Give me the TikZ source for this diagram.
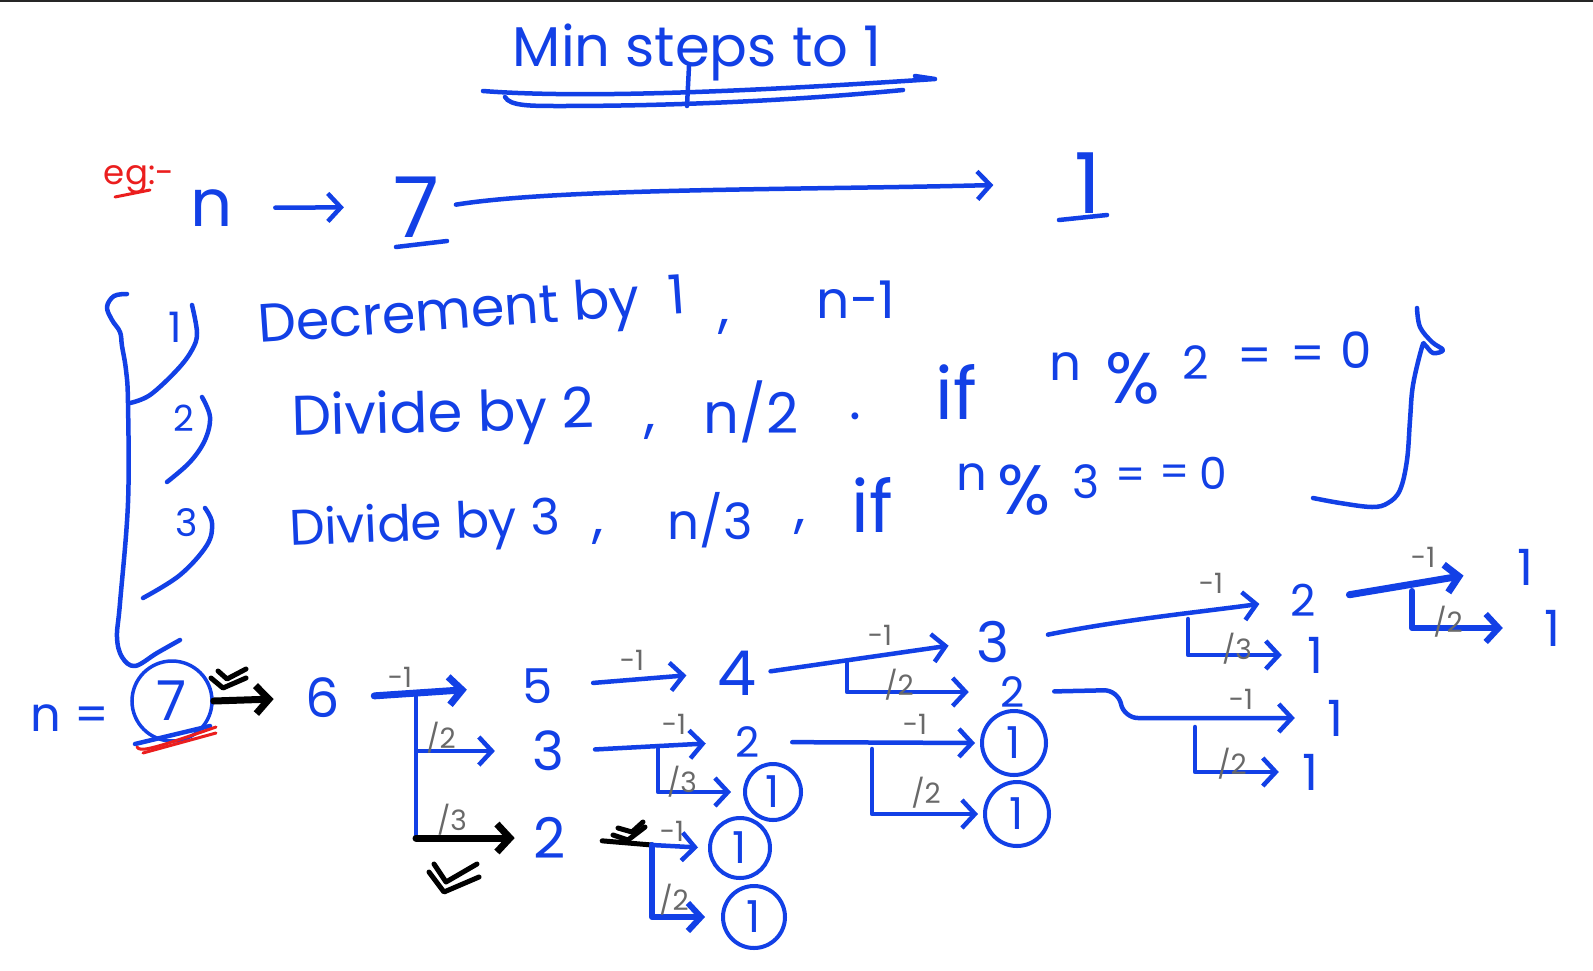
\documentclass[tikz,border=0pt]{standalone}
\usepackage{fontspec}
\setmainfont{Poppins}
\usetikzlibrary{arrows.meta}
\definecolor{pen}{RGB}{18,64,230}
\definecolor{penred}{RGB}{235,30,30}
\definecolor{pencil}{RGB}{105,105,105}
\newcommand\hfs[1]{\fontsize{#1}{#1}\selectfont}
\tikzset{
 stroke/.style={pen, line width=4.5pt, line cap=round, line join=round},
 arr/.style={stroke, -{Straight Barb[length=13pt,width=28pt]}},
 arrthick/.style={arr, line width=7pt},
 arrk/.style={arr, draw=black, line width=7pt},
 chk/.style={black, line width=5pt, line cap=round, line join=round},
 txt/.style={text=pen, inner sep=2pt},
 lbl/.style={text=pencil, inner sep=1pt, font=\hfs{28}},
 circ/.style={txt, draw=pen, line width=4pt, circle},
}
\begin{document}
\begin{tikzpicture}[x=1pt,y=-1pt]
\fill[white] (0,0) rectangle (1593,970);
\useasboundingbox (0,0) rectangle (1593,970);
\draw[black!85, line width=2pt] (0,1) -- (1593,1);

% ---------- title ----------
\node[txt, font=\hfs{56}] (title) at (697,52) {Min steps to 1};
\draw[stroke] (483,91) .. controls (600,100) and (800,88) .. (935,79) -- (915,76);
\draw[stroke] (505,97) .. controls (510,106) and (530,106) .. (560,106) .. controls (700,106) and (820,98) .. (903,90);
\draw[stroke] (689,66) -- (687,106);

% ---------- example ----------
\node[text=penred, inner sep=1pt, font=\hfs{34}] (eg) at (139,180) {eg:-};
\draw[penred, line width=3pt, line cap=round] (115,197) -- (150,190);
\node[txt, font=\hfs{66}] (nn) at (212,208) {n};
\node[txt, font=\hfs{84}] (tseven) at (416,207) {7};
\node[txt, font=\hfs{84}] (tone) at (1088,183) {1};
\draw[arr, shorten <=40pt, shorten >=47pt] (nn) -- (tseven);
\draw[arr, shorten <=15pt, shorten >=79pt] (tseven.east) .. controls (560,188) and (800,190) .. (tone.west);
\draw[stroke] (396,247) -- (447,241);
\draw[stroke] (1059,220) -- (1107,215);

% ---------- rules ----------
\draw[stroke] plot[smooth, tension=.6] coordinates {(127,294) (114,296) (107,307) (112,320) (120,332) (122,346) (126,370) (128,403) (128,503) (120,603) (117,637) (122,657) (135,666) (157,653) (180,640)};
\node[txt, font=\hfs{42}] (ia) at (175,327) {1};
\draw[stroke] plot[smooth, tension=.6] coordinates {(192,305) (197,333) (192,350) (177,370) (150,395) (130,403)};
\node[txt, font=\hfs{54}, anchor=base west, rotate=4] (dec) at (257,343) {Decrement by~~1};
\node[txt, font=\hfs{56}] (c1) at (724,327) {,};
\node[txt, font=\hfs{52}] (nm1) at (856,300) {n-1};

\node[txt, font=\hfs{36}] (ib) at (184,418) {2};
\draw[stroke] plot[smooth, tension=.6] coordinates {(202,397) (210,417) (205,440) (190,462) (167,482)};
\node[txt, font=\hfs{56}, anchor=base west, rotate=1.5] (div2) at (290,436) {Divide by 2};
\node[txt, font=\hfs{56}] (c2) at (650,432) {,};
\node[txt, font=\hfs{56}] (n2) at (751,412) {n/2};
\node[txt, font=\hfs{56}] (dot2) at (855,416) {.};
\node[txt, font=\hfs{72}] (if1) at (956,392) {if};
\node[txt, font=\hfs{50}] (m1) at (1065,367) {n};
\node[txt, font=\hfs{72}] (m2) at (1133,378) {\%};
\node[txt, font=\hfs{46}] (m3) at (1196,363) {2};
\node[txt, font=\hfs{48}] (m4) at (1255,360) {=};
\node[txt, font=\hfs{48}] (m5) at (1308,358) {=};
\node[txt, font=\hfs{50}] (m6) at (1356,350) {0};

\node[txt, font=\hfs{38}] (ic) at (187,523) {3};
\draw[stroke] plot[smooth, tension=.6] coordinates {(205,508) (212,523) (207,545) (180,575) (143,598)};
\node[txt, font=\hfs{50}, anchor=base west, rotate=2.5] (div3) at (288,546) {Divide by 3};
\node[txt, font=\hfs{56}] (c3) at (598,537) {,};
\node[txt, font=\hfs{50}] (n3) at (710,520) {n/3};
\node[txt, font=\hfs{56}] (c4) at (800,527) {,};
\node[txt, font=\hfs{72}] (if2) at (872,505) {if};
\node[txt, font=\hfs{48}] (k1) at (972,477) {n};
\node[txt, font=\hfs{70}] (k2) at (1024,490) {\%};
\node[txt, font=\hfs{46}] (k3) at (1086,482) {3};
\node[txt, font=\hfs{42}] (k4) at (1131,479) {=};
\node[txt, font=\hfs{42}] (k5) at (1175,476) {=};
\node[txt, font=\hfs{44}] (k6) at (1213,473) {0};

\draw[stroke] plot[smooth, tension=.6] coordinates {(1417,308) (1420,327) (1432,342) (1443,350) (1433,353) (1425,345) (1422,347) (1413,385) (1410,420) (1407,460) (1400,490) (1388,503) (1372,507) (1340,503) (1313,498)};

% ---------- tree ----------
\node[txt, font=\hfs{48}] (neq) at (70,718) {n =};
\node[circ, font=\hfs{55}, minimum size=80pt, line width=3.5pt] (seven) at (172,701) {7};
\draw[stroke] (135,744) -- (210,726);
\draw[penred, line width=3pt, line cap=round] (137,747) .. controls (140,752) and (150,750) .. (216,727);
\draw[penred, line width=3pt, line cap=round] (143,753) -- (216,733);

\node[txt, font=\hfs{54}] (six) at (323,698) {6};
\node[txt, font=\hfs{48}] (five) at (538,686) {5};
\node[txt, font=\hfs{54}] (threeA) at (548,751) {3};
\node[txt, font=\hfs{56}] (twoA) at (550,838) {2};
\node[txt, font=\hfs{62}] (four) at (737,673) {4};
\node[txt, font=\hfs{56}] (threeB) at (993,642) {3};
\node[txt, font=\hfs{42}] (twoB) at (1013,692) {2};
\node[txt, font=\hfs{42}] (twoC) at (748,742) {2};
\node[txt, font=\hfs{44}] (twoD) at (1303,600) {2};
\node[txt, font=\hfs{50}] (oneB) at (1315,655) {1};
\node[txt, font=\hfs{50}] (oneC) at (1525,567) {1};
\node[txt, font=\hfs{50}] (oneD) at (1552,628) {1};
\node[txt, font=\hfs{50}] (oneE) at (1335,718) {1};
\node[txt, font=\hfs{50}] (oneF) at (1310,772) {1};
\node[circ, font=\hfs{44}, minimum size=56pt] (oneA) at (773,792) {1};
\node[circ, font=\hfs{44}, minimum size=64pt] (oneG) at (1014,743) {1};
\node[circ, font=\hfs{44}, minimum size=64pt] (oneH) at (1017,814) {1};
\node[circ, font=\hfs{44}, minimum size=60pt] (oneI) at (740,848) {1};
\node[circ, font=\hfs{44}, minimum size=62pt] (oneJ) at (754,917) {1};

\coordinate (j6) at (416,697);
\coordinate (j4) at (847,661);
\coordinate (j3) at (658,746);
\coordinate (j2c) at (872,749);
\coordinate (j2a) at (652,845);
\coordinate (j3b) at (1188,619);
\coordinate (j2d) at (1412,591);
\coordinate (j2b) at (1195,727);

\draw[arrk, shorten >=30pt] (seven.east) -- (six.west);
\draw[chk] (211,678) -- (223,688) -- (246,678);
\draw[chk] (218,671) -- (227,679) -- (246,669);

\draw[arrthick, shorten <=32pt, shorten >=54pt] (six.east) -- (five.west);
\draw[arr, shorten >=35pt] (j6) |- (threeA.west);
\draw[stroke] (j6) -- (j6 |- twoA.west);
\draw[arrk, shorten >=17pt] (j6 |- twoA.west) -- (twoA.west);
\draw[chk] (429,872) -- (444,892) -- (479,877);
\draw[chk] (434,864) -- (446,882) -- (477,864);

\draw[arr, shorten <=38pt, shorten >=29pt] (five.east) -- (four.west);
\draw[arr, shorten <=12pt, shorten >=26pt] (four.east) -- (threeB.west);
\draw[arr, shorten >=30pt] (j4) |- (twoB.west);

\draw[arr, shorten <=29pt, shorten >=28pt] (threeA.east) -- (twoC.west);
\draw[arr, shorten >=12pt] (j3) |- (oneA.west);
\draw[arr, shorten <=30pt, shorten >=5pt] (twoC.east) -- (oneG.west);
\draw[arr, shorten >=5pt] (j2c) |- (oneH.west);

\draw[chk, shorten <=34pt] (twoA.east) -- (j2a);
\draw[chk] (613,835) -- (628,840) -- (645,827);
\draw[chk] (618,828) -- (632,832) -- (643,822);
\draw[arr, shorten >=10pt] (j2a) -- (oneI.west);
\draw[arr, line width=6pt, shorten >=16pt] (j2a) |- (oneJ.west);

\draw[arr, shorten <=37pt, shorten >=29pt] (threeB.east) .. controls (1120,620) and (1200,612) .. (twoD.west);
\draw[arr, shorten >=23pt] (j3b) |- (oneB.west);
\draw[arrthick, shorten <=32pt, shorten >=52pt] (twoD.east) -- (oneC.west);
\draw[arr, line width=6pt, shorten >=39pt] (j2d) |- (oneD.west);

\draw[arr, rounded corners=14pt, shorten <=27pt, shorten >=30pt] (twoB.east) -- (1118,690) -- (1124,718) -- (oneE.west);
\draw[arr, shorten >=21pt] (j2b) |- (oneF.west);

% ---------- pencil labels ----------
\node[lbl] (l1) at (400,677) {-1};
\node[lbl] (l2) at (441,738) {/2};
\node[lbl] (l3) at (452,820) {/3};
\node[lbl] (l4) at (632,660) {-1};
\node[lbl] (l5) at (880,635) {-1};
\node[lbl] (l6) at (899,685) {/2};
\node[lbl] (l7) at (674,724) {-1};
\node[lbl] (l8) at (682,782) {/3};
\node[lbl] (l9) at (915,724) {-1};
\node[lbl] (l10) at (926,793) {/2};
\node[lbl] (l11) at (672,831) {-1};
\node[lbl] (l12) at (674,900) {/2};
\node[lbl] (l13) at (1211,583) {-1};
\node[lbl] (l14) at (1237,649) {/3};
\node[lbl] (l15) at (1423,557) {-1};
\node[lbl] (l16) at (1448,622) {/2};
\node[lbl] (l17) at (1241,699) {-1};
\node[lbl] (l18) at (1232,764) {/2};
\end{tikzpicture}
\end{document}
